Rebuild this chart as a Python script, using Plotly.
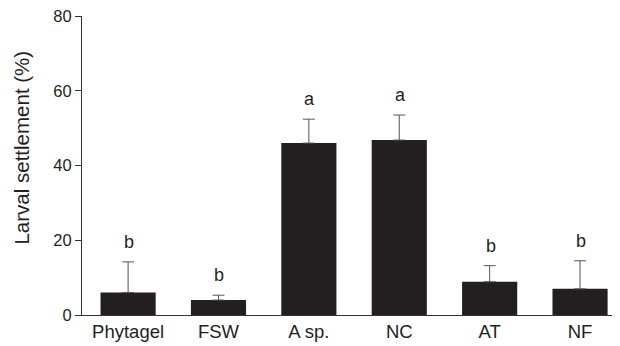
import plotly.graph_objects as go

categories = ["Phytagel", "FSW", "A sp.", "NC", "AT", "NF"]
settlement = [6.0, 4.0, 46.0, 46.8, 8.9, 7.0]
errors = [8.2, 1.3, 6.4, 6.7, 4.3, 7.5]
letters = ["b", "b", "a", "a", "b", "b"]
y_ticks = [0, 20, 40, 60, 80]

FONT = "Liberation Sans, Arial, sans-serif"
INK = "#231f20"

fig = go.Figure()
fig.add_trace(go.Bar(
    x=categories, y=settlement, width=0.61,
    marker=dict(color=INK, line=dict(width=0)),
    error_y=dict(type="data", array=errors, arrayminus=[0] * len(errors), symmetric=False,
                 color="#555555", thickness=1, width=6),
))
for c, v, e, l in zip(categories, settlement, errors, letters):
    fig.add_annotation(x=c, y=v + e, text=l, showarrow=False, yanchor="bottom", yshift=8,
                       xshift=1, font=dict(family=FONT, size=18, color=INK))

# y-axis title placed as a rotated annotation
fig.add_annotation(xref="paper", yref="paper", x=-0.112, y=0.56, text="Larval settlement (%)",
                   textangle=-90, showarrow=False, xanchor="center", yanchor="middle",
                   font=dict(family=FONT, size=20.5, color=INK))

fig.update_layout(
    width=620, height=346,
    margin=dict(l=74, r=10, t=8, b=39),
    plot_bgcolor="white", paper_bgcolor="white",
    showlegend=False,
    font=dict(family=FONT, size=16, color=INK),
)
fig.update_xaxes(range=[-0.51, 5.42], showline=True, linecolor="#333333", linewidth=1,
                 ticks="", showgrid=False, zeroline=False, automargin=False,
                 tickfont=dict(size=18.5))
fig.update_yaxes(range=[0, 80], tickvals=y_ticks, showline=True, linecolor="#333333",
                 linewidth=1, ticks="outside", ticklen=6, tickcolor="#333333", showgrid=False,
                 zeroline=False, automargin=False, ticklabeloverflow="allow",
                 tickfont=dict(size=16.5))
fig.write_html("out.html")
